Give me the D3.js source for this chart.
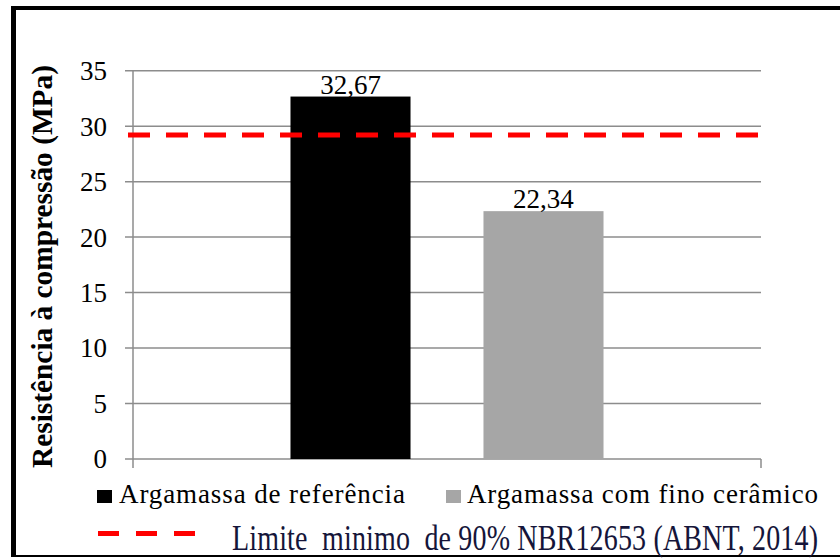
<!DOCTYPE html>
<html>
<head>
<meta charset="utf-8">
<script src="https://cdn.jsdelivr.net/npm/d3@7"></script>
<style>
  html, body { margin: 0; padding: 0; background: #fff; }
  svg { display: block; }
</style>
</head>
<body>
<svg id="chart" width="840" height="558"></svg>
<script>
// ---- data ----
const categories = ["Argamassa de referência", "Argamassa com fino cerâmico"];
const values = [32.67, 22.34];
const yTicks = [0, 5, 10, 15, 20, 25, 30, 35];
const limitValue = 29.2;
const limitLabel = "Limite  minimo  de 90% NBR12653 (ABNT, 2014)";
const yTitle = "Resistência à compressão (MPa)";

// ---- styles ----
const barColors = ["#000000", "#a6a6a6"];
const gridColor = "#8c8c8c";

// pick an installed serif font
function pickFont(cands) {
  const c = document.createElement("canvas").getContext("2d");
  const s = "Argamassa 0123456789 Resistência";
  c.font = "40px monospace"; const wm = c.measureText(s).width;
  c.font = "40px sans-serif"; const ws = c.measureText(s).width;
  for (const f of cands) {
    c.font = `40px "${f}", monospace`; const a = c.measureText(s).width;
    c.font = `40px "${f}", sans-serif`; const b = c.measureText(s).width;
    if (a !== wm && b !== ws && Math.abs(a - b) < 0.01) return `"${f}"`;
  }
  return "serif";
}
const FONT = pickFont(["Liberation Serif", "Tinos", "Times New Roman", "Nimbus Roman", "Nimbus Roman No9 L", "DejaVu Serif", "Noto Serif", "FreeSerif"]);

const svg = d3.select("#chart").style("font-family", FONT);
const W = 840, H = 558;
svg.append("rect").attr("width", W).attr("height", H).attr("fill", "#fff");

// frame
svg.append("line").attr("x1", 13.5).attr("x2", 13.5).attr("y1", 6).attr("y2", 557)
  .attr("stroke", "#000").attr("stroke-width", 5);
svg.append("line").attr("x1", 11).attr("x2", 840).attr("y1", 8).attr("y2", 8)
  .attr("stroke", "#000").attr("stroke-width", 4);
svg.append("line").attr("x1", 11).attr("x2", 840).attr("y1", 556).attr("y2", 556)
  .attr("stroke", "#000").attr("stroke-width", 2);

const plot = { left: 133, right: 761, top: 70.7, bottom: 459 };

const y = d3.scaleLinear().domain([0, 35]).range([plot.bottom, plot.top]);
const x = d3.scaleBand().domain(categories)
  .range([plot.left, plot.right])
  .paddingInner(0.378).paddingOuter(0.816);

// gridlines
svg.append("g").selectAll("line").data(yTicks).join("line")
  .attr("x1", plot.left - 8).attr("x2", plot.right)
  .attr("y1", d => y(d)).attr("y2", d => y(d))
  .attr("stroke", gridColor).attr("stroke-width", 1.5);

// y axis
const yAxis = d3.axisLeft(y).tickValues(yTicks).tickSize(0).tickPadding(26);
const gy = svg.append("g").attr("transform", `translate(${plot.left},0)`).call(yAxis)
  .attr("font-family", null).attr("font-size", null);
gy.select(".domain").remove();
gy.selectAll("text").style("font-family", FONT).attr("font-size", 27)
  .attr("fill", "#000").attr("dy", "0.33em");
svg.append("line").attr("x1", plot.left).attr("x2", plot.left)
  .attr("y1", plot.top).attr("y2", plot.bottom + 9)
  .attr("stroke", gridColor).attr("stroke-width", 1.5);
svg.append("line").attr("x1", plot.right).attr("x2", plot.right)
  .attr("y1", plot.bottom).attr("y2", plot.bottom + 9)
  .attr("stroke", gridColor).attr("stroke-width", 1.5);

// bars
svg.append("g").selectAll("rect").data(values).join("rect")
  .attr("x", (d, i) => x(categories[i]))
  .attr("width", x.bandwidth())
  .attr("y", d => y(d))
  .attr("height", d => y(0) - y(d))
  .attr("fill", (d, i) => barColors[i]);

// value labels
svg.append("g").selectAll("text").data(values).join("text")
  .attr("x", (d, i) => x(categories[i]) + x.bandwidth() / 2)
  .attr("y", d => y(d) - 3)
  .attr("text-anchor", "middle")
  .attr("font-size", 27)
  .attr("fill", "#000")
  .text(d => d3.format(".2f")(d).replace(".", ","));

// limit line
svg.append("line")
  .attr("x1", plot.left - 5).attr("x2", plot.right - 1)
  .attr("y1", y(limitValue)).attr("y2", y(limitValue))
  .attr("stroke", "#ff0000").attr("stroke-width", 5)
  .attr("stroke-dasharray", "22,16");

// y title
svg.append("text")
  .attr("transform", `translate(52,${(plot.bottom + 9 + 65) / 2}) rotate(-90)`)
  .attr("text-anchor", "middle")
  .attr("font-size", 29)
  .attr("font-weight", "bold")
  .attr("fill", "#000")
  .attr("textLength", 403).attr("lengthAdjust", "spacingAndGlyphs")
  .text(yTitle);

// legend row 1
const legX = [97, 446];
const legTextX = [119, 467];
const legTextW = [286, 351];
const lg = svg.append("g");
categories.forEach((c, i) => {
  lg.append("rect").attr("x", legX[i]).attr("y", 490).attr("width", 15).attr("height", 13)
    .attr("fill", barColors[i]);
  lg.append("text").attr("x", legTextX[i]).attr("y", 503)
    .attr("font-size", 27).attr("fill", "#000")
    .attr("textLength", legTextW[i]).attr("lengthAdjust", "spacing")
    .text(c);
});

// legend row 2
lg.append("line").attr("x1", 98).attr("x2", 197).attr("y1", 533.5).attr("y2", 533.5)
  .attr("stroke", "#ff0000").attr("stroke-width", 5).attr("stroke-dasharray", "21,17");
lg.append("text")
  .attr("transform", "translate(232,550) scale(1,1.25)")
  .attr("font-size", 28).attr("fill", "#15153a")
  .attr("textLength", 586).attr("lengthAdjust", "spacing")
  .attr("xml:space", "preserve")
  .style("white-space", "pre")
  .text(limitLabel);
</script>
</body>
</html>
